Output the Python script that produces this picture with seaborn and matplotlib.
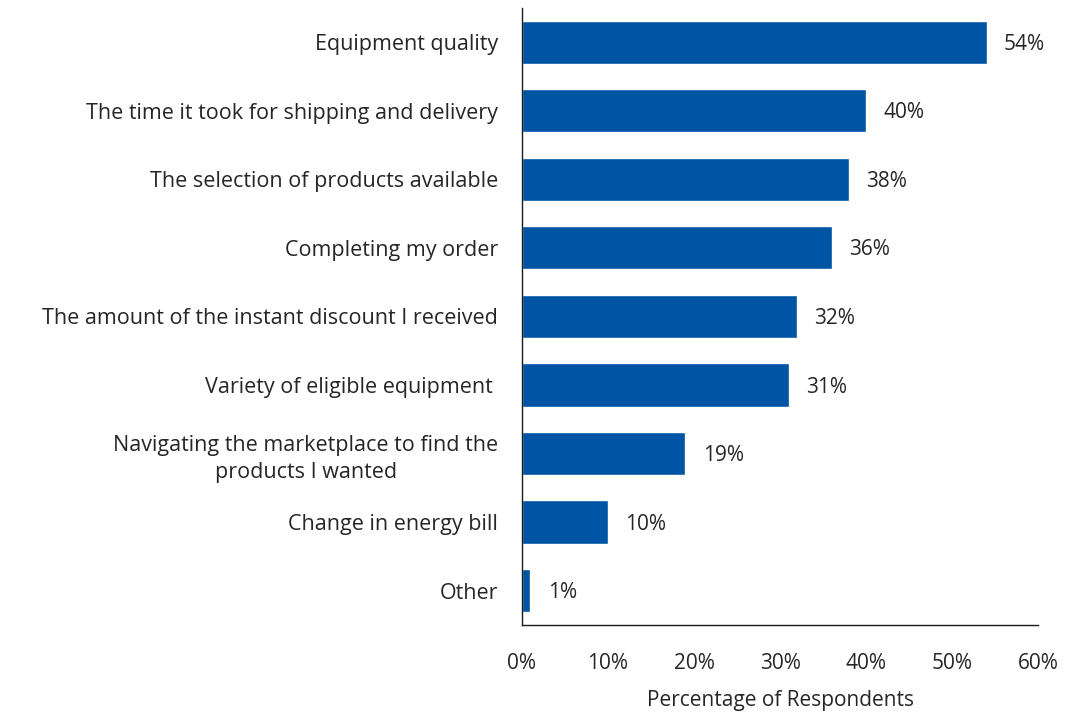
import matplotlib
matplotlib.use("Agg")
import matplotlib.pyplot as plt
import seaborn as sns
import pandas as pd
from matplotlib.ticker import PercentFormatter

# data
categories = [
    "Equipment quality",
    "The time it took for shipping and delivery",
    "The selection of products available",
    "Completing my order",
    "The amount of the instant discount I received",
    "Variety of eligible equipment ",
    "Navigating the marketplace to find the\nproducts I wanted",
    "Change in energy bill",
    "Other",
]
values = [54, 40, 38, 36, 32, 31, 19, 10, 1]

BLUE = "#0054a4"
TXT = "#262626"
FS = 15.5

sns.set_theme(style="white")
plt.rcParams["font.family"] = ["Open Sans", "DejaVu Sans"]

df = pd.DataFrame({"category": categories, "pct": values})

fig = plt.figure(figsize=(10.65, 7.15), dpi=100)
ax = fig.add_axes([0.490, 0.126, 0.485, 0.863])
sns.barplot(data=df, x="pct", y="category", orient="h", color=BLUE,
            saturation=1, width=0.63, ax=ax)

for i, v in enumerate(values):
    ax.text(v + 2.0, i + 0.03, f"{v}%", va="center", ha="left", fontsize=FS - 0.5, color=TXT)

ax.set_xlim(0, 60)
ax.set_ylim(8.5, -0.5)
ax.xaxis.set_major_formatter(PercentFormatter(decimals=0))
ax.set_xticks(range(0, 61, 10))
ax.tick_params(axis="x", length=0, labelsize=FS - 0.5, colors=TXT, pad=20)
ax.tick_params(axis="y", length=0, labelsize=FS, colors=TXT, pad=17)
for lbl in ax.get_yticklabels():
    lbl.set_multialignment("center")
    lbl.set_linespacing(1.35)

ax.set_xlabel("Percentage of Respondents", fontsize=FS - 0.5, color=TXT, labelpad=12)
ax.set_ylabel("")

for s in ["top", "right"]:
    ax.spines[s].set_visible(False)
for s in ["left", "bottom"]:
    ax.spines[s].set_color("#1a1a1a")
    ax.spines[s].set_linewidth(1.0)

plt.savefig("out.png", dpi=100)
plt.close()
